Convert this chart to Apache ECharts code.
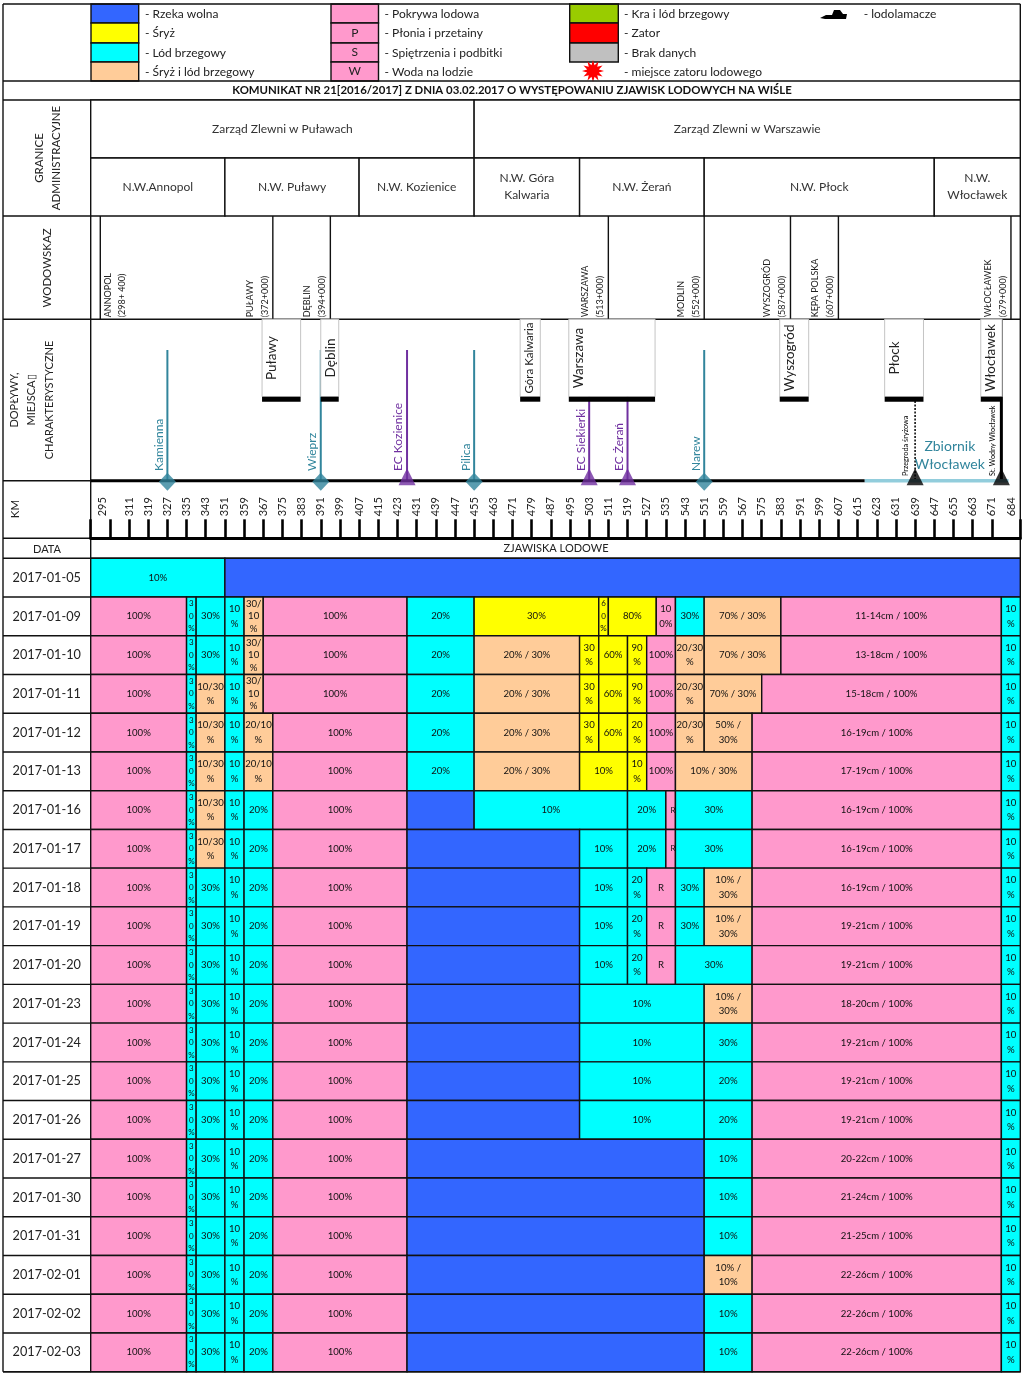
<!DOCTYPE html>
<html lang="pl">
<head>
<meta charset="UTF-8">
<title>Komunikat nr 21 - zjawiska lodowe na Wisle</title>
<script src="https://cdn.jsdelivr.net/npm/echarts@6/dist/echarts.min.js"></script>
<style>
  html, body { margin: 0; padding: 0; background: #fff; }
  #main { width: 1024px; height: 1374px; }
</style>
</head>
<body>
<div id="main"></div>
<script>
// km axis
var kmStart = 295, kmEnd = 682.9;
var kmTicks = [295, 303, 311, 319, 327, 335, 343, 351, 359, 367, 375, 383, 391, 399, 407, 415, 423, 431, 439, 447, 455, 463, 471, 479, 487, 495, 503, 511, 519, 527, 535, 543, 551, 559, 567, 575, 583, 591, 599, 607, 615, 623, 631, 639, 647, 655, 663, 671, 682.9];
var kmLabels = [295, 311, 319, 327, 335, 343, 351, 359, 367, 375, 383, 391, 399, 407, 415, 423, 431, 439, 447, 455, 463, 471, 479, 487, 495, 503, 511, 519, 527, 535, 543, 551, 559, 567, 575, 583, 591, 599, 607, 615, 623, 631, 639, 647, 655, 663, 671, 684];
var kmLabelAt = [300, 311, 319, 327, 335, 343, 351, 359, 367, 375, 383, 391, 399, 407, 415, 423, 431, 439, 447, 455, 463, 471, 479, 487, 495, 503, 511, 519, 527, 535, 543, 551, 559, 567, 575, 583, 591, 599, 607, 615, 623, 631, 639, 647, 655, 663, 671, 679];

// granice administracyjne
var zlewniaNames = ['Zarząd Zlewni w Puławach', 'Zarząd Zlewni w Warszawie'];
var zlewniaKm = [295, 455, kmEnd];
var nwNames = ['N.W.Annopol', 'N.W. Puławy', 'N.W. Kozienice', 'N.W. Góra\nKalwaria', 'N.W. Żerań', 'N.W. Płock', 'N.W.\nWłocławek'];
var nwKm = [295, 351, 407, 455, 499, 551, 647, kmEnd];

// wodowskazy
var gaugeNames = ['ANNOPOL', 'PUŁAWY', 'DĘBLIN', 'WARSZAWA', 'MODLIN', 'WYSZOGRÓD', 'KĘPA POLSKA', 'WŁOCŁAWEK'];
var gaugeChainage = ['(298+ 400)', '(372+000)', '(394+000)', '(513+000)', '(552+000)', '(587+000)', '(607+000)', '(679+000)'];
var gaugeKm = [299, 371, 395, 511, 551, 587, 607, 679];

// miejsca charakterystyczne
var cityNames = ['Puławy', 'Dęblin', 'Góra Kalwaria', 'Warszawa', 'Wyszogród', 'Płock', 'Włocławek'];
var cityFrom = [366.5, 391, 474.2, 494.5, 582.5, 626.3, 666.4];
var cityTo = [382.6, 398.5, 482.6, 530.5, 594.6, 642.5, 675.3];

// dopływy
var tribNames = ['Kamienna', 'Wieprz', 'EC Kozienice', 'Pilica', 'EC Siekierki', 'EC Żerań', 'Narew', 'Przegroda śryżowa', 'St. Wodny Włocławek'];
var tribKm = [327, 391, 427, 455, 503, 519, 551, 639, 675];
var tribKinds = ['river', 'river', 'plant', 'river', 'plant', 'plant', 'river', 'barrier', 'dam'];
var riverKm = [295, 618];
var lakeKm = [618, 678];
var lakeNames = ['Zbiornik', 'Włocławek'];
var lakeLabelKm = 653.5;

// tabela: [km od, rodzaj, opis, km opisu]
var dates = ['2017-01-05', '2017-01-09', '2017-01-10', '2017-01-11', '2017-01-12', '2017-01-13', '2017-01-16', '2017-01-17', '2017-01-18', '2017-01-19', '2017-01-20', '2017-01-23', '2017-01-24', '2017-01-25', '2017-01-26', '2017-01-27', '2017-01-30', '2017-01-31', '2017-02-01', '2017-02-02', '2017-02-03'];
var row0105 = [[295, 'L', '10%'], [351, 'W', '']];
var row0109 = [[295, 'P', '100%'], [335, 'L', '3\n0\n%'], [339, 'L', '30%'], [351, 'L', '10\n%'], [359, 'M', '30/\n10\n%'], [367, 'P', '100%'], [427, 'L', '20%'], [455, 'S', '30%'], [507, 'S', '6\n0\n%'], [511, 'S', '80%'], [531, 'P', '10\n0%'], [539, 'L', '30%'], [551, 'M', '70% / 30%'], [583, 'P', '11-14cm / 100%'], [675, 'L', '10\n%']];
var row0110 = [[295, 'P', '100%'], [335, 'L', '3\n0\n%'], [339, 'L', '30%'], [351, 'L', '10\n%'], [359, 'M', '30/\n10\n%'], [367, 'P', '100%'], [427, 'L', '20%'], [455, 'M', '20% / 30%'], [499, 'S', '30\n%'], [507, 'S', '60%'], [519, 'S', '90\n%'], [527, 'P', '100%'], [539, 'M', '20/30\n%'], [551, 'M', '70% / 30%'], [583, 'P', '13-18cm / 100%'], [675, 'L', '10\n%']];
var row0111 = [[295, 'P', '100%'], [335, 'L', '3\n0\n%'], [339, 'M', '10/30\n%'], [351, 'L', '10\n%'], [359, 'M', '30/\n10\n%'], [367, 'P', '100%'], [427, 'L', '20%'], [455, 'M', '20% / 30%'], [499, 'S', '30\n%'], [507, 'S', '60%'], [519, 'S', '90\n%'], [527, 'P', '100%'], [539, 'M', '20/30\n%'], [551, 'M', '70% / 30%'], [575, 'P', '15-18cm / 100%'], [675, 'L', '10\n%']];
var row0112 = [[295, 'P', '100%'], [335, 'L', '3\n0\n%'], [339, 'M', '10/30\n%'], [351, 'L', '10\n%'], [359, 'M', '20/10\n%'], [371, 'P', '100%'], [427, 'L', '20%'], [455, 'M', '20% / 30%'], [499, 'S', '30\n%'], [507, 'S', '60%'], [519, 'S', '20\n%'], [527, 'P', '100%'], [539, 'M', '20/30\n%'], [551, 'M', '50% /\n30%'], [571, 'P', '16-19cm / 100%'], [675, 'L', '10\n%']];
var row0113 = [[295, 'P', '100%'], [335, 'L', '3\n0\n%'], [339, 'M', '10/30\n%'], [351, 'L', '10\n%'], [359, 'M', '20/10\n%'], [371, 'P', '100%'], [427, 'L', '20%'], [455, 'M', '20% / 30%'], [499, 'S', '10%'], [519, 'S', '10\n%'], [527, 'P', '100%'], [539, 'M', '10% / 30%'], [571, 'P', '17-19cm / 100%'], [675, 'L', '10\n%']];
var row0116 = [[295, 'P', '100%'], [335, 'L', '3\n0\n%'], [339, 'M', '10/30\n%'], [351, 'L', '10\n%'], [359, 'L', '20%'], [371, 'P', '100%'], [427, 'W', ''], [455, 'L', '10%'], [519, 'L', '20%'], [535, 'P', 'R', 538], [539, 'L', '30%'], [571, 'P', '16-19cm / 100%'], [675, 'L', '10\n%']];
var row0117 = [[295, 'P', '100%'], [335, 'L', '3\n0\n%'], [339, 'M', '10/30\n%'], [351, 'L', '10\n%'], [359, 'L', '20%'], [371, 'P', '100%'], [427, 'W', ''], [499, 'L', '10%'], [519, 'L', '20%'], [535, 'P', 'R', 538], [539, 'L', '30%'], [571, 'P', '16-19cm / 100%'], [675, 'L', '10\n%']];
var row0118 = [[295, 'P', '100%'], [335, 'L', '3\n0\n%'], [339, 'L', '30%'], [351, 'L', '10\n%'], [359, 'L', '20%'], [371, 'P', '100%'], [427, 'W', ''], [499, 'L', '10%'], [519, 'L', '20\n%'], [527, 'P', 'R'], [539, 'L', '30%'], [551, 'M', '10% /\n30%'], [571, 'P', '16-19cm / 100%'], [675, 'L', '10\n%']];
var row0119 = [[295, 'P', '100%'], [335, 'L', '3\n0\n%'], [339, 'L', '30%'], [351, 'L', '10\n%'], [359, 'L', '20%'], [371, 'P', '100%'], [427, 'W', ''], [499, 'L', '10%'], [519, 'L', '20\n%'], [527, 'P', 'R'], [539, 'L', '30%'], [551, 'M', '10% /\n30%'], [571, 'P', '19-21cm / 100%'], [675, 'L', '10\n%']];
var row0120 = [[295, 'P', '100%'], [335, 'L', '3\n0\n%'], [339, 'L', '30%'], [351, 'L', '10\n%'], [359, 'L', '20%'], [371, 'P', '100%'], [427, 'W', ''], [499, 'L', '10%'], [519, 'L', '20\n%'], [527, 'P', 'R'], [539, 'L', '30%'], [571, 'P', '19-21cm / 100%'], [675, 'L', '10\n%']];
var row0123 = [[295, 'P', '100%'], [335, 'L', '3\n0\n%'], [339, 'L', '30%'], [351, 'L', '10\n%'], [359, 'L', '20%'], [371, 'P', '100%'], [427, 'W', ''], [499, 'L', '10%'], [551, 'M', '10% /\n30%'], [571, 'P', '18-20cm / 100%'], [675, 'L', '10\n%']];
var row0124 = [[295, 'P', '100%'], [335, 'L', '3\n0\n%'], [339, 'L', '30%'], [351, 'L', '10\n%'], [359, 'L', '20%'], [371, 'P', '100%'], [427, 'W', ''], [499, 'L', '10%'], [551, 'L', '30%'], [571, 'P', '19-21cm / 100%'], [675, 'L', '10\n%']];
var row0125 = [[295, 'P', '100%'], [335, 'L', '3\n0\n%'], [339, 'L', '30%'], [351, 'L', '10\n%'], [359, 'L', '20%'], [371, 'P', '100%'], [427, 'W', ''], [499, 'L', '10%'], [551, 'L', '20%'], [571, 'P', '19-21cm / 100%'], [675, 'L', '10\n%']];
var row0126 = [[295, 'P', '100%'], [335, 'L', '3\n0\n%'], [339, 'L', '30%'], [351, 'L', '10\n%'], [359, 'L', '20%'], [371, 'P', '100%'], [427, 'W', ''], [499, 'L', '10%'], [551, 'L', '20%'], [571, 'P', '19-21cm / 100%'], [675, 'L', '10\n%']];
var row0127 = [[295, 'P', '100%'], [335, 'L', '3\n0\n%'], [339, 'L', '30%'], [351, 'L', '10\n%'], [359, 'L', '20%'], [371, 'P', '100%'], [427, 'W', ''], [551, 'L', '10%'], [571, 'P', '20-22cm / 100%'], [675, 'L', '10\n%']];
var row0130 = [[295, 'P', '100%'], [335, 'L', '3\n0\n%'], [339, 'L', '30%'], [351, 'L', '10\n%'], [359, 'L', '20%'], [371, 'P', '100%'], [427, 'W', ''], [551, 'L', '10%'], [571, 'P', '21-24cm / 100%'], [675, 'L', '10\n%']];
var row0131 = [[295, 'P', '100%'], [335, 'L', '3\n0\n%'], [339, 'L', '30%'], [351, 'L', '10\n%'], [359, 'L', '20%'], [371, 'P', '100%'], [427, 'W', ''], [551, 'L', '10%'], [571, 'P', '21-25cm / 100%'], [675, 'L', '10\n%']];
var row0201 = [[295, 'P', '100%'], [335, 'L', '3\n0\n%'], [339, 'L', '30%'], [351, 'L', '10\n%'], [359, 'L', '20%'], [371, 'P', '100%'], [427, 'W', ''], [551, 'M', '10% /\n10%'], [571, 'P', '22-26cm / 100%'], [675, 'L', '10\n%']];
var row0202 = [[295, 'P', '100%'], [335, 'L', '3\n0\n%'], [339, 'L', '30%'], [351, 'L', '10\n%'], [359, 'L', '20%'], [371, 'P', '100%'], [427, 'W', ''], [551, 'L', '10%'], [571, 'P', '22-26cm / 100%'], [675, 'L', '10\n%']];
var row0203 = [[295, 'P', '100%'], [335, 'L', '3\n0\n%'], [339, 'L', '30%'], [351, 'L', '10\n%'], [359, 'L', '20%'], [371, 'P', '100%'], [427, 'W', ''], [551, 'L', '10%'], [571, 'P', '22-26cm / 100%'], [675, 'L', '10\n%']];
var rows = [row0105, row0109, row0110, row0111, row0112, row0113, row0116, row0117, row0118, row0119, row0120, row0123, row0124, row0125, row0126, row0127, row0130, row0131, row0201, row0202, row0203];

var kindColors = { W: '#3366ff', S: '#ffff00', L: '#00ffff', M: '#ffcc99', P: '#ff99cc' };

var FONT = 'Lato, "Noto Sans", sans-serif';
var INK = '#222';
var TEAL = '#31859c';
var PURPLE = '#7030a0';
var RULE = 1.4;
var LEFT = 90.7, RIGHT = 1020.3, EDGE = 3;
var Y = { top: 4, legend: 81, title: 100, admin: 216, gauge: 319.3, trib: 480.7, km: 538.3, head: 558.3, bottom: 1371.7 };
var tribStyle = {
    river: { color: TEAL, top: 350, width: 2, font: 12, dx: -8.5, base: 471 },
    plant: { color: PURPLE, top: 350, width: 2, font: 12, dx: -8.5, base: 471 },
    barrier: { color: '#000', top: 401, width: 1.5, font: 7.3, dx: -9.5, base: 476, dash: [2, 1.5] },
    dam: { color: '#000', top: Y.gauge, width: 3, font: 7.2, dx: -8.5, base: 476 }
};

function kmAxis(gridIndex, extra) {
    return Object.assign({
        type: 'value', gridIndex: gridIndex, min: kmStart, max: kmEnd,
        axisLine: { show: false }, axisTick: { show: false }, axisLabel: { show: false }, splitLine: { show: false }
    }, extra || {});
}
function hiddenValueAxis(gridIndex) {
    return { type: 'value', gridIndex: gridIndex, min: 0, max: 1, show: false };
}
function vText(x, y, text, font, color, align) {
    return {
        type: 'text', x: x, y: y, rotation: Math.PI / 2,
        style: { text: text, fill: color, fontFamily: FONT, fontSize: font, align: align || 'left', verticalAlign: 'middle' }
    };
}

// komórki tabeli
var cellData = [];
rows.forEach(function (cells, r) {
    cells.forEach(function (c, i) {
        var next = i + 1 < cells.length ? cells[i + 1][0] : kmEnd;
        cellData.push([c[0], next, r, c[1], c[2], c[3] === undefined ? (c[0] + next) / 2 : c[3]]);
    });
});

function renderCell(params, api) {
    var d = cellData[params.dataIndex];
    var c = api.coord([d[0], d[2]]);
    var x2 = api.coord([d[1], d[2]])[0];
    var h = api.size([0, 1])[1];
    var w = x2 - c[0];
    var lines = d[4].split('\n').length;
    var size = w < 11 ? 8 : 9.6;
    return {
        type: 'group',
        children: [{
            type: 'rect',
            shape: { x: c[0], y: c[1] - h / 2, width: w, height: h },
            style: { fill: kindColors[d[3]], stroke: '#111', lineWidth: RULE }
        }, {
            type: 'text',
            x: api.coord([d[5], d[2]])[0], y: c[1],
            style: {
                text: d[4], fill: '#111', fontFamily: FONT, fontSize: size,
                lineHeight: lines === 3 ? 12.5 : 14.5, align: 'center', verticalAlign: 'middle'
            }
        }]
    };
}

function renderBand(names, edges) {
    return function (params, api) {
        var i = params.dataIndex;
        var r = api.value(2);
        var c = api.coord([edges[i], r]);
        var x2 = api.coord([edges[i + 1], r])[0];
        var h = api.size([0, 1])[1];
        return {
            type: 'group',
            children: [{
                type: 'rect',
                shape: { x: c[0], y: c[1] - h / 2, width: x2 - c[0], height: h },
                style: { fill: '#fff', stroke: '#111', lineWidth: RULE }
            }, {
                type: 'text', x: (c[0] + x2) / 2, y: c[1],
                style: { text: names[i], fill: '#333', fontFamily: FONT, fontSize: 12, lineHeight: 17, align: 'center', verticalAlign: 'middle' }
            }]
        };
    };
}

function renderGauge(params, api) {
    var i = params.dataIndex;
    var x = api.coord([gaugeKm[i], 0.5])[0];
    var first = i === 0;
    var base = Y.gauge - 2;
    return {
        type: 'group',
        children: [
            { type: 'line', shape: { x1: x, y1: Y.admin, x2: x, y2: Y.gauge }, style: { stroke: '#111', lineWidth: RULE } },
            vText(first ? x + 8 : x - 23, base, gaugeNames[i], 9, INK),
            vText(first ? x + 21.5 : x - 8, base, gaugeChainage[i], 9, INK)
        ]
    };
}

function renderTrib(params, api) {
    var i = params.dataIndex;
    var st = tribStyle[tribKinds[i]];
    var p = api.coord([tribKm[i], 0]);
    return {
        type: 'group',
        children: [
            { type: 'line', shape: { x1: p[0], y1: st.top, x2: p[0], y2: p[1] }, style: { stroke: st.color, lineWidth: st.width, lineDash: st.dash } },
            vText(p[0] + st.dx, st.base, tribNames[i], st.font, st.color)
        ]
    };
}

function renderCity(params, api) {
    var i = params.dataIndex;
    var x1 = api.coord([cityFrom[i], 0])[0];
    var x2 = api.coord([cityTo[i], 0])[0];
    var barTop = 396.7, barBottom = 401.7;
    return {
        type: 'group',
        children: [
            { type: 'rect', shape: { x: x1, y: Y.gauge, width: x2 - x1, height: barTop - Y.gauge }, style: { fill: '#fff', stroke: '#c4c4c4', lineWidth: 1 } },
            { type: 'rect', shape: { x: x1, y: barTop, width: x2 - x1, height: barBottom - barTop }, style: { fill: '#000' } },
            vText(x1 + 9.5, 358, cityNames[i], cityNames[i] === 'Góra Kalwaria' ? 11.5 : 13.5, INK, 'center')
        ]
    };
}

function renderLakeLabel(params, api) {
    var x = api.coord([lakeLabelKm, 0])[0];
    return {
        type: 'text', x: x, y: 455.5,
        style: { text: lakeNames.join('\n'), fill: TEAL, fontFamily: FONT, fontSize: 14, lineHeight: 17.5, align: 'center', verticalAlign: 'middle' }
    };
}

function renderDateRule(params, api) {
    var c = api.coord([kmStart, params.dataIndex]);
    var h = api.size([0, 1])[1];
    return { type: 'line', shape: { x1: EDGE, y1: c[1] + h / 2, x2: LEFT, y2: c[1] + h / 2 }, style: { stroke: '#111', lineWidth: RULE } };
}

function tribMarker(km, i) {
    var kind = tribKinds[i];
    var isDiamond = kind === 'river';
    return {
        value: [km, 0],
        symbol: isDiamond ? 'diamond' : 'triangle',
        symbolSize: isDiamond ? [17, 18] : [17, 17],
        symbolOffset: isDiamond ? [0, 1] : [0, -4],
        itemStyle: { color: tribStyle[kind].color }
    };
}

// legenda i ramka
var legendSwatches = [
    [91, 138.7, 4, 23, '#3366ff', ''], [91, 138.7, 23, 43, '#ffff00', ''], [91, 138.7, 43, 62, '#00ffff', ''], [91, 138.7, 62, 81, '#ffcc99', ''],
    [331, 378.5, 4, 23, '#ff99cc', ''], [331, 378.5, 23, 43, '#ff99cc', 'P'], [331, 378.5, 43, 62, '#ff99cc', 'S'], [331, 378.5, 62, 81, '#ff99cc', 'W'],
    [569.7, 618.3, 4, 23, '#99cc00', ''], [569.7, 618.3, 23, 43, '#ff0000', ''], [569.7, 618.3, 43, 62, '#c0c0c0', '']
];
var legendTexts = [
    [145, 14, '- Rzeka wolna'], [145, 33.5, '- Śryż'], [145, 53, '- Lód brzegowy'], [145, 72.5, '- Śryż i lód brzegowy'],
    [384.5, 14, '- Pokrywa lodowa'], [384.5, 33.5, '- Płonia i przetainy'], [384.5, 53, '- Spiętrzenia i podbitki'], [384.5, 72.5, '- Woda na lodzie'],
    [624, 14, '- Kra i lód brzegowy'], [624, 33.5, '- Zator'], [624, 53, '- Brak danych'], [624, 72.5, '- miejsce zatoru lodowego'],
    [863.7, 14, '- lodolamacze']
];
var frameLines = [
    [EDGE, Y.top, RIGHT, Y.top], [EDGE, Y.legend, RIGHT, Y.legend], [EDGE, Y.title, RIGHT, Y.title],
    [EDGE, Y.admin, LEFT, Y.admin], [EDGE, Y.gauge, RIGHT, Y.gauge], [EDGE, Y.trib, LEFT, Y.trib],
    [EDGE, Y.km, LEFT, Y.km], [EDGE, Y.head, RIGHT, Y.head], [EDGE, Y.bottom, RIGHT, Y.bottom],
    [EDGE, Y.top, EDGE, Y.bottom], [RIGHT, Y.top, RIGHT, Y.bottom], [LEFT, Y.title, LEFT, Y.bottom]
];

function starPoints(cx, cy, outer, inner, n) {
    var pts = [];
    for (var i = 0; i < n * 2; i++) {
        var r = i % 2 ? inner : outer, a = Math.PI * i / n;
        pts.push([cx + r * Math.sin(a), cy - r * Math.cos(a)]);
    }
    return pts;
}

var graphics = [];
legendSwatches.forEach(function (s) {
    graphics.push({
        type: 'rect', shape: { x: s[0], y: s[2], width: s[1] - s[0], height: s[3] - s[2] },
        style: { fill: s[4], stroke: '#111', lineWidth: RULE }
    });
    if (s[5]) {
        graphics.push({
            type: 'text', x: (s[0] + s[1]) / 2, y: (s[2] + s[3]) / 2,
            style: { text: s[5], fill: INK, fontFamily: FONT, fontSize: 12, align: 'center', verticalAlign: 'middle' }
        });
    }
});
legendTexts.forEach(function (t) {
    graphics.push({
        type: 'text', x: t[0], y: t[1],
        style: { text: t[2], fill: INK, fontFamily: FONT, fontSize: 12, align: 'left', verticalAlign: 'middle' }
    });
});
graphics.push({ type: 'polygon', shape: { points: starPoints(593, 71, 11, 6, 12) }, style: { fill: '#ff0000' } });
graphics.push({
    type: 'polygon',
    shape: { points: [[820, 18], [826, 15], [832, 15], [834, 10], [840, 10], [843, 14], [847, 14], [846, 19], [825, 19]] },
    style: { fill: '#000' }
});
frameLines.forEach(function (l) {
    graphics.push({ type: 'line', shape: { x1: l[0], y1: l[1], x2: l[2], y2: l[3] }, style: { stroke: '#111', lineWidth: RULE } });
});
graphics.push({
    type: 'text', x: 512, y: 90.5,
    style: { text: 'KOMUNIKAT NR 21[2016/2017] Z DNIA 03.02.2017 O WYSTĘPOWANIU ZJAWISK LODOWYCH NA WIŚLE', fill: '#111', fontFamily: FONT, fontSize: 11.4, fontWeight: 'bold', align: 'center', verticalAlign: 'middle' }
});
[
    [39, 158, 'GRANICE', 11.5], [56.7, 158, 'ADMINISTRACYJNE', 11.5], [47.7, 268, 'WODOWSKAZ', 11.5],
    [14.7, 400, 'DOPŁYWY,', 11], [31.7, 400, 'MIEJSCA▯', 11], [49.3, 400, 'CHARAKTERYSTYCZNE', 11], [15, 509, 'KM', 11.5]
].forEach(function (t) {
    graphics.push({
        type: 'text', x: t[0], y: t[1], rotation: Math.PI / 2,
        style: { text: t[2], fill: INK, fontFamily: FONT, fontSize: t[3], align: 'center', verticalAlign: 'middle' }
    });
});
graphics.push({ type: 'text', x: 47, y: 549, style: { text: 'DATA', fill: INK, fontFamily: FONT, fontSize: 11, align: 'center', verticalAlign: 'middle' } });
graphics.push({ type: 'text', x: 556, y: 548, style: { text: 'ZJAWISKA LODOWE', fill: INK, fontFamily: FONT, fontSize: 11, align: 'center', verticalAlign: 'middle' } });

var gridLayout = { left: LEFT, width: RIGHT - LEFT };

var option = {
    backgroundColor: '#fff',
    animation: false,
    tooltip: { show: false },
    graphic: { elements: graphics },
    grid: [
        Object.assign({ top: Y.title, height: Y.admin - Y.title }, gridLayout),
        Object.assign({ top: Y.admin, height: Y.gauge - Y.admin }, gridLayout),
        Object.assign({ top: Y.gauge, height: Y.trib - Y.gauge }, gridLayout),
        Object.assign({ top: Y.trib, height: Y.km - Y.trib }, gridLayout),
        Object.assign({ top: Y.head, height: Y.bottom - Y.head }, gridLayout)
    ],
    xAxis: [
        kmAxis(0), kmAxis(1), kmAxis(2),
        kmAxis(3, {
            position: 'bottom',
            axisLine: { show: true, onZero: false, lineStyle: { color: '#000', width: 3 } },
            axisTick: { show: true, inside: true, length: 19, customValues: kmTicks, lineStyle: { color: '#000', width: 2.6 } },
            axisLabel: {
                show: true, inside: true, margin: 22, rotate: 90, customValues: kmLabelAt,
                color: INK, fontFamily: FONT, fontSize: 11,
                formatter: function (v) { return String(kmLabels[kmLabelAt.indexOf(v)]); }
            }
        }),
        kmAxis(4)
    ],
    yAxis: [
        { type: 'category', gridIndex: 0, inverse: true, data: ['zarzad', 'nw'], show: false },
        hiddenValueAxis(1), hiddenValueAxis(2), hiddenValueAxis(3),
        {
            type: 'category', gridIndex: 4, inverse: true, data: dates,
            axisLine: { show: false }, axisTick: { show: false }, splitLine: { show: false },
            axisLabel: { margin: 44, align: 'center', color: INK, fontFamily: FONT, fontSize: 12.7 }
        }
    ],
    series: [
        { type: 'custom', xAxisIndex: 0, yAxisIndex: 0, renderItem: renderBand(zlewniaNames, zlewniaKm), data: zlewniaNames.map(function (n, i) { return [zlewniaKm[i], zlewniaKm[i + 1], 0]; }) },
        { type: 'custom', xAxisIndex: 0, yAxisIndex: 0, renderItem: renderBand(nwNames, nwKm), data: nwNames.map(function (n, i) { return [nwKm[i], nwKm[i + 1], 1]; }) },
        { type: 'custom', xAxisIndex: 1, yAxisIndex: 1, renderItem: renderGauge, data: gaugeKm.map(function (k) { return [k, 0.5]; }) },
        { type: 'custom', xAxisIndex: 2, yAxisIndex: 2, z: 2, renderItem: renderTrib, data: tribKm.map(function (k) { return [k, 0]; }) },
        { type: 'custom', xAxisIndex: 2, yAxisIndex: 2, z: 3, renderItem: renderCity, data: cityFrom.map(function (k, i) { return [k, cityTo[i]]; }) },
        { type: 'line', xAxisIndex: 2, yAxisIndex: 2, z: 4, showSymbol: false, clip: false, lineStyle: { color: '#000', width: 3 }, data: riverKm.map(function (k) { return [k, 0]; }) },
        { type: 'line', xAxisIndex: 2, yAxisIndex: 2, z: 4, showSymbol: false, clip: false, lineStyle: { color: '#92cddc', width: 3.5 }, data: lakeKm.map(function (k) { return [k, 0]; }) },
        { type: 'custom', xAxisIndex: 2, yAxisIndex: 2, z: 4, renderItem: renderLakeLabel, data: [[lakeLabelKm, 0]] },
        { type: 'scatter', xAxisIndex: 2, yAxisIndex: 2, z: 5, clip: false, data: tribKm.map(tribMarker) },
        { type: 'custom', xAxisIndex: 4, yAxisIndex: 4, renderItem: renderCell, data: cellData.map(function (d) { return [d[0], d[1], d[2]]; }) },
        { type: 'custom', xAxisIndex: 4, yAxisIndex: 4, renderItem: renderDateRule, data: dates.map(function (d, i) { return [kmStart, i]; }) }
    ]
};

var chart = echarts.init(document.getElementById('main'), null, { renderer: 'canvas' });
chart.setOption(option);
</script>
</body>
</html>
